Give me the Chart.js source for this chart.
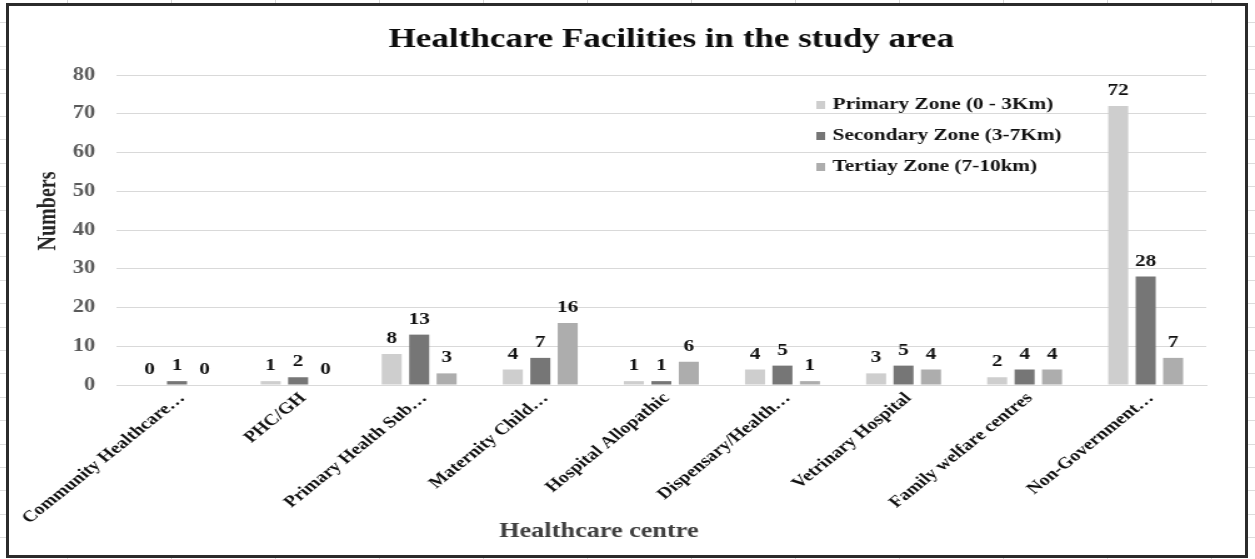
<!DOCTYPE html>
<html>
<head>
<meta charset="utf-8">
<title>Healthcare Facilities in the study area</title>
<script src="https://cdn.jsdelivr.net/npm/chart.js@4.4.1/dist/chart.umd.min.js"></script>
<style>
  html, body { margin: 0; padding: 0; }
  body {
    width: 1255px;
    height: 559px;
    overflow: hidden;
    position: relative;
    background-color: #fff;
    background-image:
      repeating-linear-gradient(to right, transparent 0 67px, #d6d6d6 67px 68px, transparent 68px 104px),
      repeating-linear-gradient(to bottom, transparent 0 22.4px, #dcdcdc 22.4px 23.4px);
  }
  #frame {
    position: absolute;
    left: 6px;
    top: 3px;
    width: 1236px;
    height: 549px;
    border: 3px solid #2b2b2b;
    background: #fff;
    overflow: hidden;
  }
  /* the sheet export is wider than it is tall, so the drawing is stretched sideways */
  #stretch {
    width: 989px;
    height: 549px;
    transform: scaleX(1.2497);
    transform-origin: 0 0;
  }
</style>
</head>
<body>
<div id="frame">
  <div id="stretch"><canvas id="facilityChart"></canvas></div>
</div>
<script>
const categories = [
  "Community Healthcare…",
  "PHC/GH",
  "Primary Health Sub…",
  "Maternity Child…",
  "Hospital Allopathic",
  "Dispensary/Health…",
  "Vetrinary Hospital",
  "Family welfare centres",
  "Non-Government…",
];
const primaryZone = [0, 1, 8, 4, 1, 4, 3, 2, 72];
const secondaryZone = [1, 2, 13, 7, 1, 5, 5, 4, 28];
const tertiaryZone = [0, 0, 3, 16, 6, 1, 4, 4, 7];
const zoneNames = [
  "Primary Zone (0 - 3Km)",
  "Secondary Zone (3-7Km)",
  "Tertiay Zone (7-10km)",
];
const yMin = 0;
const yMax = 80;
const yStep = 10;

const SERIF = '"Liberation Serif", "Times New Roman", serif';
const zoneColors = ["#cecece", "#767676", "#adadad"];

// numbers above every bar
const valueLabels = {
  id: "valueLabels",
  afterDatasetsDraw(chart) {
    const ctx = chart.ctx;
    ctx.save();
    ctx.font = "bold 17px " + SERIF;
    ctx.fillStyle = "#111";
    ctx.textAlign = "center";
    ctx.textBaseline = "alphabetic";
    chart.data.datasets.forEach((ds, i) => {
      chart.getDatasetMeta(i).data.forEach((bar, j) => {
        ctx.fillText(String(ds.data[j]), bar.x, bar.y - 11);
      });
    });
    ctx.restore();
  },
};

// title, axis titles and the legend box inside the plot
const chartText = {
  id: "chartText",
  afterDraw(chart) {
    const ctx = chart.ctx;
    const area = chart.chartArea;
    ctx.save();
    ctx.textAlign = "center";
    ctx.textBaseline = "middle";

    ctx.fillStyle = "#0d0d0d";
    ctx.font = "bold 28px " + SERIF;
    ctx.fillText("Healthcare Facilities in the study area", 530, 34);

    ctx.fillStyle = "#404040";
    ctx.font = "bold 21px " + SERIF;
    ctx.fillText("Healthcare centre", 472, 526);

    ctx.save();
    ctx.translate(32, 205);
    ctx.rotate(-Math.PI / 2);
    ctx.fillStyle = "#262626";
    ctx.font = "bold 20px " + SERIF;
    ctx.fillText("Numbers", 0, 0);
    ctx.restore();

    ctx.textAlign = "left";
    ctx.font = "bold 17px " + SERIF;
    chart.data.datasets.forEach((ds, i) => {
      const y = area.top + 30 + i * 31;
      ctx.fillStyle = ds.backgroundColor;
      ctx.fillRect(646, y - 4, 7, 8);
      ctx.fillStyle = "#111";
      ctx.fillText(ds.label, 659, y);
    });
    ctx.restore();
  },
};

const dataset = (label, data, color) => ({
  label: label,
  data: data,
  backgroundColor: color,
  borderWidth: 0,
  categoryPercentage: 0.68,
  barPercentage: 0.73,
});

new Chart(document.getElementById("facilityChart"), {
  type: "bar",
  data: {
    labels: categories,
    datasets: [
      dataset(zoneNames[0], primaryZone, zoneColors[0]),
      dataset(zoneNames[1], secondaryZone, zoneColors[1]),
      dataset(zoneNames[2], tertiaryZone, zoneColors[2]),
    ],
  },
  options: {
    responsive: true,
    maintainAspectRatio: false,
    animation: false,
    layout: {
      padding: { top: 69, right: 31, bottom: 0, left: 0 },
    },
    plugins: {
      legend: { display: false },
      title: { display: false },
      tooltip: { enabled: false },
    },
    scales: {
      x: {
        grid: { display: false },
        border: { display: true, color: "#d9d9d9", width: 1 },
        ticks: {
          autoSkip: false,
          minRotation: 45,
          maxRotation: 45,
          padding: -4,
          labelOffset: 4,
          color: "#111",
          font: { size: 16, family: SERIF, weight: "bold" },
        },
        afterFit(scale) {
          scale.height = 170;
          scale.paddingLeft = 0;
          scale.paddingRight = 0;
        },
      },
      y: {
        min: yMin,
        max: yMax,
        grid: { color: "#d9d9d9", lineWidth: 1, drawTicks: false },
        border: { display: false },
        ticks: {
          stepSize: yStep,
          padding: 17,
          color: "#595959",
          font: { size: 18, family: SERIF, weight: "bold" },
        },
        afterFit(scale) {
          scale.width = 86;
        },
      },
    },
  },
  plugins: [valueLabels, chartText],
});
</script>
</body>
</html>
